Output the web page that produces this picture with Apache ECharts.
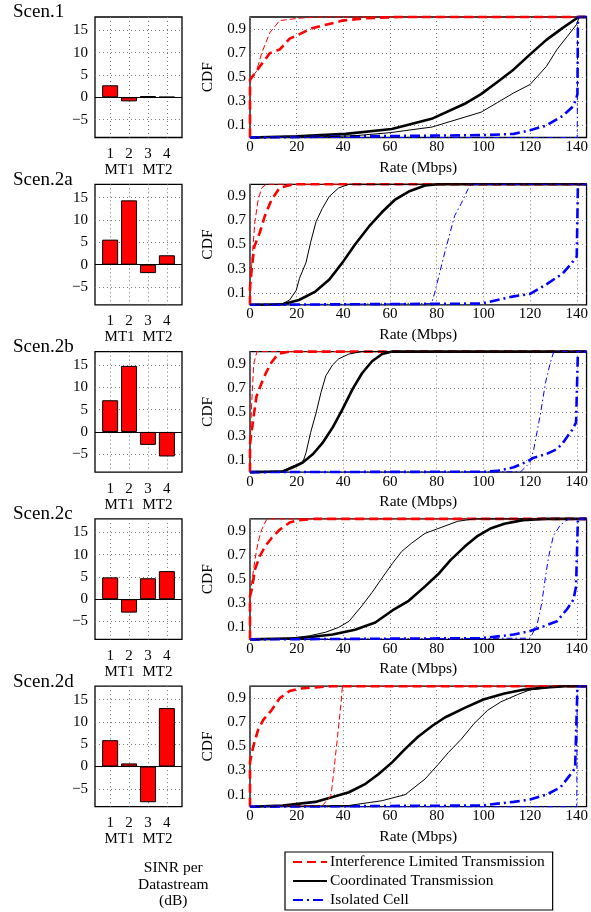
<!DOCTYPE html>
<html><head><meta charset="utf-8">
<script src="https://cdn.jsdelivr.net/npm/echarts@6/dist/echarts.min.js"></script>
<style>html,body{margin:0;padding:0;background:#fff}#c{width:591px;height:912px}</style>
</head><body><div id="c"></div>
<script>
// ---------------- data ----------------
const scenarioNames = ['Scen.1', 'Scen.2a', 'Scen.2b', 'Scen.2c', 'Scen.2d'];
const streamIds = [1, 2, 3, 4];
const streamGroupLabels = ['MT1', 'MT2'];
const streamGroupPos = [1.5, 3.5];
const sinrTicks = [-5, 0, 5, 10, 15];
const rateTicks = [0, 20, 40, 60, 80, 100, 120, 140];
const cdfTicks = [0.1, 0.3, 0.5, 0.7, 0.9];
const legendNames = ['Interference Limited Transmission', 'Coordinated Transmission', 'Isolated Cell'];

// SINR per datastream (dB)
const sinr_s1  = [2.7, -0.9, 0.3, 0.1];
const sinr_s2a = [5.6, 14.4, -1.9, 2.1];
const sinr_s2b = [7.1, 14.8, -2.9, -5.5];
const sinr_s2c = [4.9, -3.0, 4.7, 6.3];
const sinr_s2d = [5.9, 0.7, -8.0, 13.1];

// CDF curves [rate (Mbps), CDF]
const s1_ilThick = [[0,0],[0,0.48],[3.5,0.57],[8.5,0.70],[12.7,0.73],[17,0.82],[22.6,0.87],[25.5,0.9],[32.5,0.935],[39.6,0.97],[49.5,0.99],[63.6,1],[144.2,1]];
const s1_ilThin  = [[0,0],[0,0.48],[2.8,0.55],[3.5,0.6],[5,0.7],[8.5,0.87],[12.7,0.97],[21,0.99],[30,1],[144.2,1]];
const s1_coThick = [[0,0],[20,0.01],[41,0.03],[60.8,0.07],[77.8,0.155],[92,0.28],[99,0.36],[106,0.46],[113,0.565],[120,0.69],[127,0.81],[134,0.91],[140,0.99],[141,1],[144.2,1]];
const s1_coThin  = [[0,0],[30,0.005],[45,0.015],[60,0.04],[78,0.087],[99,0.21],[106,0.29],[113,0.37],[120,0.44],[127,0.59],[131.5,0.73],[136,0.84],[140,0.94],[141,1],[144.2,1]];
const s1_isoThick= [[0,0],[100,0.02],[113,0.03],[120,0.06],[127,0.1],[134,0.18],[138.5,0.26],[139.7,0.32],[140.3,0.36],[140.5,1],[144.2,1]];
const s1_isoThin = [[0,0],[140.2,0],[140.4,1],[144.2,1]];

const s2a_ilThick = [[0,0],[0,0.14],[0.7,0.29],[1.8,0.48],[4.2,0.6],[6.4,0.74],[9.2,0.87],[12.7,0.97],[18.4,1],[144.2,1]];
const s2a_ilThin  = [[0,0],[0,0.14],[1.1,0.43],[2.1,0.69],[3.5,0.87],[5,0.97],[7,1],[144.2,1]];
const s2a_coThick = [[0,0],[14,0.004],[21,0.04],[28,0.11],[34,0.21],[39.6,0.35],[45,0.5],[51,0.65],[56.6,0.77],[62,0.87],[68,0.94],[75,0.99],[80.6,1],[144.2,1]];
const s2a_coThin  = [[0,0],[10,0.003],[14,0.01],[17,0.04],[19.8,0.12],[21.2,0.22],[24,0.35],[26,0.52],[28.3,0.69],[31,0.8],[34,0.9],[38,0.97],[42.4,1],[144.2,1]];
const s2a_isoThick= [[0,0],[99,0.01],[106,0.04],[113,0.07],[120,0.09],[127,0.17],[134,0.26],[138,0.35],[140,0.4],[140.5,1],[144.2,1]];
const s2a_isoThin = [[0,0],[77.8,0.01],[79,0.09],[83.4,0.43],[87.7,0.74],[90.5,0.84],[93.4,0.96],[94.8,1],[144.2,1]];

const s2b_ilThick = [[0,0],[0,0.23],[1.4,0.44],[2.8,0.63],[5,0.74],[7,0.83],[9.2,0.91],[12,0.98],[17,1],[144.2,1]];
const s2b_ilThin  = [[0,0],[0,0.23],[0.8,0.6],[1.6,0.9],[3,1],[144.2,1]];
const s2b_coThick = [[0,0],[14,0.005],[18.4,0.04],[22.6,0.08],[27,0.15],[31,0.24],[35.4,0.37],[39.6,0.52],[44,0.69],[48,0.82],[52.3,0.92],[56.6,0.98],[61,1],[144.2,1]];
const s2b_coThin  = [[0,0],[14,0.01],[18.4,0.05],[22.6,0.08],[24,0.16],[26,0.33],[28.3,0.49],[30.4,0.66],[32.5,0.8],[35.4,0.89],[38,0.94],[42.4,0.98],[48,1],[144.2,1]];
const s2b_isoThick= [[0,0],[100,0.003],[106,0.01],[113,0.04],[119,0.09],[121.6,0.12],[127,0.15],[131.5,0.19],[134,0.24],[138,0.35],[139.7,0.41],[140.5,1],[144.2,1]];
const s2b_isoThin = [[0,0],[116,0.003],[120,0.08],[121.6,0.19],[124.5,0.49],[126.6,0.74],[128.7,0.91],[130,0.99],[131,1],[144.2,1]];

const s2c_ilThick = [[0,0],[0,0.36],[0.7,0.41],[2.1,0.58],[4.2,0.69],[6.4,0.77],[9.2,0.84],[12.7,0.91],[17,0.97],[21,0.99],[28,1],[144.2,1]];
const s2c_ilThin  = [[0,0],[0,0.36],[1.1,0.52],[2.1,0.66],[3.5,0.81],[5,0.91],[7,0.99],[8,1],[144.2,1]];
const s2c_coThick = [[0,0],[21,0.01],[35.4,0.04],[45,0.08],[53.7,0.14],[61,0.24],[68,0.32],[75,0.44],[80.6,0.54],[86,0.66],[92,0.77],[97.6,0.86],[103,0.92],[109,0.96],[117,0.99],[126,1],[144.2,1]];
const s2c_coThin  = [[0,0],[14,0.003],[25.5,0.03],[32.5,0.06],[38,0.1],[42.4,0.15],[48,0.28],[52.3,0.39],[56.6,0.51],[61,0.63],[65,0.73],[69.3,0.8],[75,0.88],[80.6,0.92],[89,0.98],[96,1],[144.2,1]];
const s2c_isoThick= [[0,0],[99,0.01],[113,0.04],[120,0.07],[126,0.11],[131.5,0.15],[135.8,0.25],[138.6,0.33],[139.7,0.44],[140.5,1],[144.2,1]];
const s2c_isoThin = [[0,0],[120,0.01],[123,0.12],[125,0.3],[126.6,0.52],[128,0.69],[130,0.86],[133,0.95],[135.8,0.99],[137,1],[144.2,1]];

const s2d_ilThick = [[0,0],[0,0.37],[1.4,0.5],[3.5,0.64],[5.7,0.72],[9.2,0.8],[12.7,0.9],[17,0.96],[21,0.98],[35,1],[144.2,1]];
const s2d_ilThin  = [[0,0],[31,0.01],[34.7,0.09],[36,0.31],[37.5,0.58],[39,0.86],[39.6,1],[144.2,1]];
const s2d_coThick = [[0,0],[14,0.01],[28,0.04],[35.4,0.08],[42.4,0.12],[49.5,0.19],[55,0.27],[61,0.37],[66.5,0.48],[72,0.58],[78,0.67],[83.5,0.74],[92,0.82],[100,0.89],[109,0.94],[117,0.97],[127,0.99],[135,1],[144.2,1]];
const s2d_coThin  = [[0,0],[42.4,0.01],[56.6,0.05],[66.5,0.1],[75,0.23],[80.6,0.35],[85,0.45],[90.5,0.56],[96,0.69],[101.8,0.8],[107.5,0.87],[114.6,0.93],[120,0.97],[128.7,0.99],[135,1],[144.2,1]];
const s2d_isoThick= [[0,0],[99,0.01],[113,0.04],[120,0.06],[127,0.1],[133,0.16],[137,0.26],[139.3,0.32],[140.3,1],[144.2,1]];
const s2d_isoThin = [[0,0],[140,0],[140.2,1],[144.2,1]];

const rows = [
  { sinr: sinr_s1,  il: [s1_ilThick, s1_ilThin],   co: [s1_coThick, s1_coThin],   iso: [s1_isoThick, s1_isoThin] },
  { sinr: sinr_s2a, il: [s2a_ilThick, s2a_ilThin], co: [s2a_coThick, s2a_coThin], iso: [s2a_isoThick, s2a_isoThin] },
  { sinr: sinr_s2b, il: [s2b_ilThick, s2b_ilThin], co: [s2b_coThick, s2b_coThin], iso: [s2b_isoThick, s2b_isoThin] },
  { sinr: sinr_s2c, il: [s2c_ilThick, s2c_ilThin], co: [s2c_coThick, s2c_coThin], iso: [s2c_isoThick, s2c_isoThin] },
  { sinr: sinr_s2d, il: [s2d_ilThick, s2d_ilThin], co: [s2d_coThick, s2d_coThin], iso: [s2d_isoThick, s2d_isoThin] }
];

// ---------------- layout / style ----------------
const FONT = '"Liberation Serif", "Times New Roman", serif';
const ROW_TOP0 = 17, ROW_STEP = 167.3, ROW_H = 120.5;
const BAR_LEFT = 95, BAR_W = 87;
const CDF_LEFT = 250, CDF_W = 340;
const RATE_MAX = 144.2;
const gridLine = { show: true, lineStyle: { color: '#777', type: [1, 3], width: 1 } };
const minus = v => (v < 0 ? '\u2212' + Math.abs(v) : String(v));

const styles = {
  il:  { color: '#ff0000', thick: { width: 2.6, type: [9, 5] },        thin: { width: 1, type: [6, 3] } },
  co:  { color: '#000000', thick: { width: 2.6, type: 'solid' },       thin: { width: 1, type: 'solid' } },
  iso: { color: '#0000ff', thick: { width: 2.6, type: [10, 4, 2, 4] }, thin: { width: 1, type: [6, 3, 1.5, 3] } }
};

const grid = [], xAxis = [], yAxis = [], series = [], graphic = [];

rows.forEach((row, r) => {
  const top = ROW_TOP0 + r * ROW_STEP;
  const gBar = grid.length;
  grid.push({ left: BAR_LEFT, top: top, width: BAR_W, height: ROW_H, show: true, borderColor: '#000', borderWidth: 1.3, backgroundColor: 'transparent' });
  const gCdf = grid.length;
  grid.push({ left: CDF_LEFT, top: top, width: CDF_W, height: ROW_H, show: true, borderColor: '#000', borderWidth: 1.3, backgroundColor: 'transparent' });

  const xBar = xAxis.length;
  xAxis.push({ gridIndex: gBar, type: 'value', min: 0.2, max: 4.8, position: 'bottom',
    axisLine: { show: false }, axisTick: { show: false, customValues: streamIds },
    axisLabel: { customValues: streamIds, margin: 9, color: '#000', fontFamily: FONT, fontSize: 15 },
    splitLine: gridLine });
  xAxis.push({ gridIndex: gBar, type: 'value', min: 0.2, max: 4.8, position: 'bottom', offset: 16,
    axisLine: { show: false }, axisTick: { show: false, customValues: streamGroupPos },
    axisLabel: { customValues: streamGroupPos, margin: 9, color: '#000', fontFamily: FONT, fontSize: 15,
      formatter: v => streamGroupLabels[streamGroupPos.indexOf(v)] },
    splitLine: { show: false } });
  const xCdf = xAxis.length;
  xAxis.push({ gridIndex: gCdf, type: 'value', min: 0, max: RATE_MAX, position: 'bottom',
    name: 'Rate (Mbps)', nameLocation: 'middle', nameGap: 22,
    nameTextStyle: { color: '#000', fontFamily: FONT, fontSize: 15.5 },
    axisLine: { show: false }, axisTick: { show: false, customValues: rateTicks },
    axisLabel: { customValues: rateTicks, margin: 2, color: '#000', fontFamily: FONT, fontSize: 15 },
    splitLine: gridLine });

  const yBar = yAxis.length;
  yAxis.push({ gridIndex: gBar, type: 'value', min: -9, max: 18,
    axisLine: { show: false }, axisTick: { show: false, customValues: sinrTicks },
    axisLabel: { customValues: sinrTicks, margin: 7, color: '#000', fontFamily: FONT, fontSize: 15, formatter: minus },
    splitLine: gridLine });
  const yCdf = yAxis.length;
  yAxis.push({ gridIndex: gCdf, type: 'value', min: 0, max: 1,
    name: 'CDF', nameLocation: 'middle', nameGap: 28,
    nameTextStyle: { color: '#000', fontFamily: FONT, fontSize: 15.5 },
    axisLine: { show: false }, axisTick: { show: false, customValues: cdfTicks },
    axisLabel: { customValues: cdfTicks, margin: 4, color: '#000', fontFamily: FONT, fontSize: 15 },
    splitLine: gridLine });

  series.push({ type: 'bar', xAxisIndex: xBar, yAxisIndex: yBar, barWidth: 16,
    data: row.sinr.map((v, i) => [streamIds[i], v]),
    itemStyle: { color: '#ff0000', borderColor: '#000', borderWidth: 1 },
    markLine: { silent: true, symbol: 'none', label: { show: false },
      lineStyle: { color: '#000', type: 'solid', width: 1.2 }, data: [{ yAxis: 0 }] } });

  ['il', 'co', 'iso'].forEach((k, ki) => {
    ['thick', 'thin'].forEach((w, wi) => {
      series.push({ type: 'line', name: legendNames[ki], xAxisIndex: xCdf, yAxisIndex: yCdf,
        data: row[k][wi], showSymbol: false, symbol: 'none', clip: false, z: wi === 0 ? 3 : 4,
        lineStyle: { color: styles[k].color, width: styles[k][w].width, type: styles[k][w].type },
        itemStyle: { color: styles[k].color } });
    });
  });

  graphic.push({ type: 'text', left: 13, top: top - 14,
    style: { text: scenarioNames[r], fill: '#000', font: '19px ' + FONT } });
});

graphic.push({ type: 'text', left: 138, top: 860, style: { text: 'SINR per\nDatastream\n(dB)', fill: '#000',
  font: '15.5px ' + FONT, textAlign: 'center', lineHeight: 16.5 } });

const chart = echarts.init(document.getElementById('c'), null, { renderer: 'canvas' });
chart.setOption({
  animation: false,
  backgroundColor: '#fff',
  grid, xAxis, yAxis, series, graphic,
  legend: {
    data: legendNames, orient: 'vertical', left: 285, top: 852, height: 60,
    itemWidth: 34, itemHeight: 14, itemGap: 3, padding: [2, 8, 2, 7],
    borderColor: '#000', borderWidth: 1.2, selectedMode: false,
    itemStyle: { opacity: 0 },
    textStyle: { color: '#000', fontFamily: FONT, fontSize: 15.5, lineHeight: 14, padding: [0, 0, 0, -2] }
  }
});
</script></body></html>
